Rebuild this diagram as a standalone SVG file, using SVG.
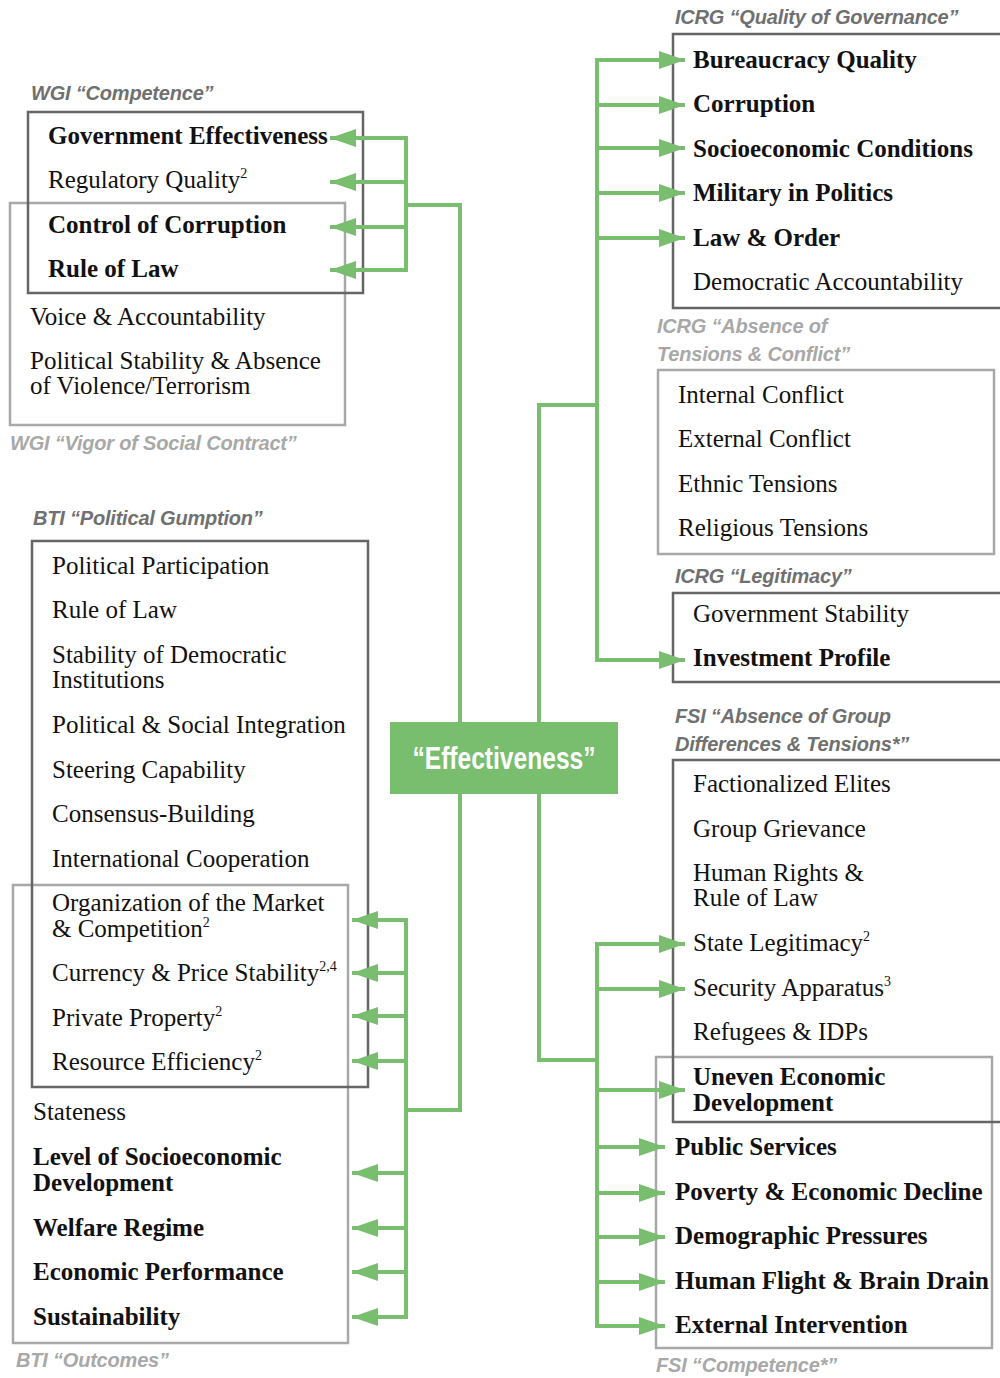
<svg xmlns="http://www.w3.org/2000/svg" width="1000" height="1378" viewBox="0 0 1000 1378">
<style>
.bd{fill:none;stroke:#666;stroke-width:2.5}
.bl{fill:none;stroke:#a8a8a8;stroke-width:2.5}
.g{fill:none;stroke:#79bd6f;stroke-width:4}
.a{marker-end:url(#ah)}
.t{font-family:"Liberation Serif",serif;font-size:25px;fill:#111}
.b{font-weight:bold}
.ld{font-family:"Liberation Sans",sans-serif;font-style:italic;font-weight:bold;font-size:20px;fill:#707070;letter-spacing:-0.2px}
.ll{font-family:"Liberation Sans",sans-serif;font-style:italic;font-weight:bold;font-size:20px;fill:#a8a8a8;letter-spacing:-0.2px}
.sup{font-size:14px}
</style>
<defs>
<marker id="ah" markerUnits="userSpaceOnUse" markerWidth="26" markerHeight="18" refX="26" refY="9" orient="auto">
<path d="M0,0 L26,9 L0,18 z" fill="#79bd6f"/>
</marker>
</defs>
<rect width="1000" height="1378" fill="#fff"/>

<g id="wgi-vigor">
<rect class="bl" x="10" y="203" width="335" height="222"/>
<text class="ll" x="10" y="450">WGI “Vigor of Social Contract”</text>
<text class="t" x="30" y="325">Voice &amp; Accountability</text>
<text class="t" x="30" y="369">Political Stability &amp; Absence</text>
<text class="t" x="30" y="394">of Violence/Terrorism</text>
</g>
<g id="wgi-competence">
<rect class="bd" x="28" y="112" width="335" height="181"/>
<text class="ld" x="31" y="100">WGI “Competence”</text>
<text class="t b" x="48" y="144">Government Effectiveness</text>
<text class="t" x="48" y="188">Regulatory Quality<tspan class="sup" dy="-10">2</tspan></text>
<text class="t b" x="48" y="233">Control of Corruption</text>
<text class="t b" x="48" y="277">Rule of Law</text>
</g>

<g id="bti-outcomes">
<rect class="bl" x="13" y="885" width="335" height="458"/>
<text class="ll" x="16" y="1367">BTI “Outcomes”</text>
<text class="t" x="33" y="1120">Stateness</text>
<text class="t b" x="33" y="1165">Level of Socioeconomic</text>
<text class="t b" x="33" y="1191">Development</text>
<text class="t b" x="33" y="1236">Welfare Regime</text>
<text class="t b" x="33" y="1280">Economic Performance</text>
<text class="t b" x="33" y="1325">Sustainability</text>
</g>
<g id="bti-gumption">
<rect class="bd" x="32" y="541" width="336" height="546"/>
<text class="ld" x="33" y="525">BTI “Political Gumption”</text>
<text class="t" x="52" y="574">Political Participation</text>
<text class="t" x="52" y="618">Rule of Law</text>
<text class="t" x="52" y="663">Stability of Democratic</text>
<text class="t" x="52" y="688">Institutions</text>
<text class="t" x="52" y="733">Political &amp; Social Integration</text>
<text class="t" x="52" y="778">Steering Capability</text>
<text class="t" x="52" y="822">Consensus-Building</text>
<text class="t" x="52" y="867">International Cooperation</text>
<text class="t" x="52" y="911">Organization of the Market</text>
<text class="t" x="52" y="937">&amp; Competition<tspan class="sup" dy="-10">2</tspan></text>
<text class="t" x="52" y="981">Currency &amp; Price Stability<tspan class="sup" dy="-10">2,4</tspan></text>
<text class="t" x="52" y="1026">Private Property<tspan class="sup" dy="-10">2</tspan></text>
<text class="t" x="52" y="1070">Resource Efficiency<tspan class="sup" dy="-10">2</tspan></text>
</g>

<g id="icrg-quality">
<rect class="bd" x="673" y="34" width="340" height="274"/>
<text class="ld" x="675" y="24">ICRG “Quality of Governance”</text>
<text class="t b" x="693" y="68">Bureaucracy Quality</text>
<text class="t b" x="693" y="112">Corruption</text>
<text class="t b" x="693" y="157">Socioeconomic Conditions</text>
<text class="t b" x="693" y="201">Military in Politics</text>
<text class="t b" x="693" y="246">Law &amp; Order</text>
<text class="t" x="693" y="290">Democratic Accountability</text>
</g>
<g id="icrg-tensions">
<rect class="bl" x="658" y="370" width="336" height="184"/>
<text class="ll" x="657" y="333">ICRG “Absence of</text>
<text class="ll" x="657" y="361">Tensions &amp; Conflict”</text>
<text class="t" x="678" y="403">Internal Conflict</text>
<text class="t" x="678" y="447">External Conflict</text>
<text class="t" x="678" y="492">Ethnic Tensions</text>
<text class="t" x="678" y="536">Religious Tensions</text>
</g>
<g id="icrg-legitimacy">
<rect class="bd" x="673" y="593" width="340" height="89"/>
<text class="ld" x="675" y="583">ICRG “Legitimacy”</text>
<text class="t" x="693" y="622">Government Stability</text>
<text class="t b" x="693" y="666">Investment Profile</text>
</g>
<g id="fsi-competence">
<rect class="bl" x="656" y="1057" width="336" height="291"/>
<text class="ll" x="656" y="1372">FSI “Competence*”</text>
<text class="t b" x="675" y="1155">Public Services</text>
<text class="t b" x="675" y="1200">Poverty &amp; Economic Decline</text>
<text class="t b" x="675" y="1244">Demographic Pressures</text>
<text class="t b" x="675" y="1289">Human Flight &amp; Brain Drain</text>
<text class="t b" x="675" y="1333">External Intervention</text>
</g>
<g id="fsi-group">
<rect class="bd" x="673" y="760" width="340" height="362"/>
<text class="ld" x="675" y="723">FSI “Absence of Group</text>
<text class="ld" x="675" y="751">Differences &amp; Tensions*”</text>
<text class="t" x="693" y="792">Factionalized Elites</text>
<text class="t" x="693" y="837">Group Grievance</text>
<text class="t" x="693" y="881">Human Rights &amp;</text>
<text class="t" x="693" y="906">Rule of Law</text>
<text class="t" x="693" y="951">State Legitimacy<tspan class="sup" dy="-10">2</tspan></text>
<text class="t" x="693" y="996">Security Apparatus<tspan class="sup" dy="-10">3</tspan></text>
<text class="t" x="693" y="1040">Refugees &amp; IDPs</text>
<text class="t b" x="693" y="1085">Uneven Economic</text>
<text class="t b" x="693" y="1111">Development</text>
</g>

<g id="connectors">
<path class="g" d="M460,722 V205 H406"/>
<path class="g" d="M406,136 V272"/>
<path class="g a" d="M406,138 H330"/>
<path class="g a" d="M406,182 H330"/>
<path class="g a" d="M406,227 H330"/>
<path class="g a" d="M406,270 H330"/>

<path class="g" d="M460,794 V1110 H406"/>
<path class="g" d="M406,918 V1319"/>
<path class="g a" d="M406,920 H352"/>
<path class="g a" d="M406,973 H352"/>
<path class="g a" d="M406,1016 H352"/>
<path class="g a" d="M406,1061 H352"/>
<path class="g a" d="M406,1173 H352"/>
<path class="g a" d="M406,1228 H352"/>
<path class="g a" d="M406,1272 H352"/>
<path class="g a" d="M406,1317 H352"/>

<path class="g" d="M539,722 V405 H597"/>
<path class="g" d="M597,58 V662"/>
<path class="g a" d="M597,60 H685"/>
<path class="g a" d="M597,105 H685"/>
<path class="g a" d="M597,148 H685"/>
<path class="g a" d="M597,193 H685"/>
<path class="g a" d="M597,238 H685"/>
<path class="g a" d="M597,660 H685"/>

<path class="g" d="M539,794 V1060 H597"/>
<path class="g" d="M597,942 V1328"/>
<path class="g a" d="M597,944 H685"/>
<path class="g a" d="M597,989 H685"/>
<path class="g a" d="M597,1090 H685"/>
<path class="g a" d="M597,1147 H665"/>
<path class="g a" d="M597,1193 H665"/>
<path class="g a" d="M597,1237 H665"/>
<path class="g a" d="M597,1282 H665"/>
<path class="g a" d="M597,1326 H665"/>
</g>

<g id="effectiveness">
<rect x="390" y="722" width="228" height="72" fill="#79bd6f"/>
<text x="504" y="769" text-anchor="middle" font-family="Liberation Sans, sans-serif" font-weight="bold" font-size="31" fill="#fff" textLength="183" lengthAdjust="spacingAndGlyphs">“Effectiveness”</text>
</g>
</svg>
